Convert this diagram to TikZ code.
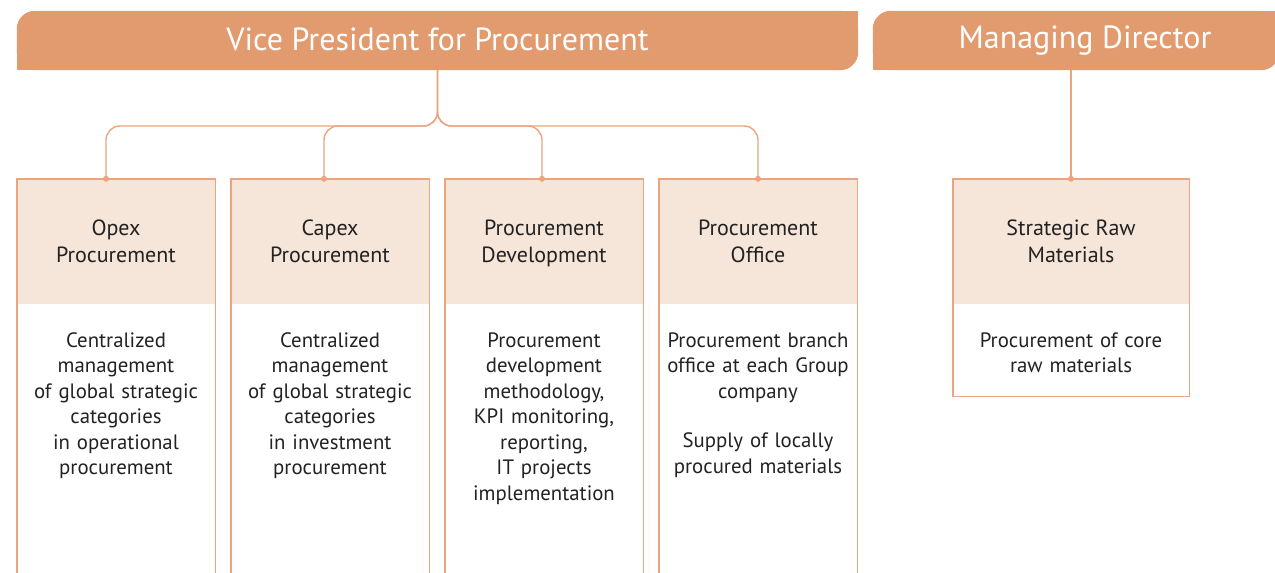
\documentclass[tikz,border=0pt]{standalone}
\usepackage{fontspec}
\setmainfont{PT Sans}
\usetikzlibrary{positioning, backgrounds}
\definecolor{hdrorange}{HTML}{E29B6E}
\definecolor{unitfill}{HTML}{F6E5D9}
\definecolor{unitline}{HTML}{EAA580}
\definecolor{textgray}{HTML}{222222}

\begin{document}
\begin{tikzpicture}[x=1pt, y=-1pt,
    hdr/.style={minimum height=59pt, inner sep=0pt, text=white, font=\fontsize{32}{36}\selectfont},
    unit/.style={fill=unitfill, minimum width=198pt, minimum height=125pt, inner sep=0pt, align=center, text=textgray, font=\fontsize{22}{27}\selectfont, text depth=0pt},
    duty/.style={text width=196pt, inner sep=0pt, align=center, text=textgray, font=\fontsize{20.8}{25.5}\selectfont},
    link/.style={draw=unitline, line width=1.4pt, rounded corners=14pt},
    frame/.style={draw=unitline, line width=1.4pt},
    dot/.style={circle, fill=unitline, inner sep=0pt, minimum size=6pt}]
    \clip (0,0) rectangle (1275,573);
    \coordinate (floor) at (0,590);
    \coordinate (bus) at (0,126);

    % headers
    \node[hdr, minimum width=841pt] (vp) at (437.5,40.5) {\raisebox{3pt}{Vice President for Procurement}};
    \node[hdr, minimum width=406pt] (md) at (1076,40.5) {\hspace*{18pt}\raisebox{2pt}{Managing Director}};
    \begin{scope}[on background layer]
      \foreach \h in {vp,md} {
        \fill[hdrorange, rounded corners=18pt] (\h.north west) rectangle (\h.south east);
        \fill[hdrorange] (\h.north) rectangle (\h.east);
        \fill[hdrorange] (\h.west) rectangle (\h.south);
      }
    \end{scope}

    % units
    \node[unit] (opex) at (116,241.5) {Opex\\Procurement};
    \node[unit] (capex) at (330,241.5) {Capex\\Procurement};
    \node[unit] (dev) at (544,241.5) {Procurement\\Development};
    \node[unit] (office) at (758,241.5) {Procurement\\Office};
    \node[unit, minimum width=236pt] (raw) at (1071,241.5) {Strategic Raw\\Materials};

    \node[duty, below=28pt of opex] (opexduty) {Centralized\\management\\of global strategic\\categories\\in operational\\procurement};
    \node[duty, below=28pt of capex] (capexduty) {Centralized\\management\\of global strategic\\categories\\in investment\\procurement};
    \node[duty, below=28pt of dev] (devduty) {Procurement\\development\\methodology,\\KPI monitoring,\\reporting,\\IT projects\\implementation};
    \node[duty, below=28pt of office] (officeduty) {Procurement branch\\office at each Group\\company\\[24pt]Supply of locally\\procured materials};
    \node[duty, text width=230pt, below=28pt of raw] (rawduty) {Procurement of core\\raw materials};

    \foreach \u in {opex,capex,dev,office}
      \draw[frame] (\u.west |- floor) -- (\u.north west) -- (\u.north east) -- (\u.east |- floor);
    \draw[frame] (raw.north west) rectangle ([yshift=-92pt]raw.south east);

    % connectors
    \foreach \u/\dx in {opex/-10, capex/-6, dev/-2, office/0} {
      \coordinate (\u top) at ([xshift=\dx pt]\u.north);
      \draw[link] (vp.south) -- (vp.south |- bus) -- (\u top |- bus) -- (\u top) node[dot] {};
    }
    \draw[link] (raw.north |- md.south) -- (raw.north) node[dot] {};
\end{tikzpicture}
\end{document}
